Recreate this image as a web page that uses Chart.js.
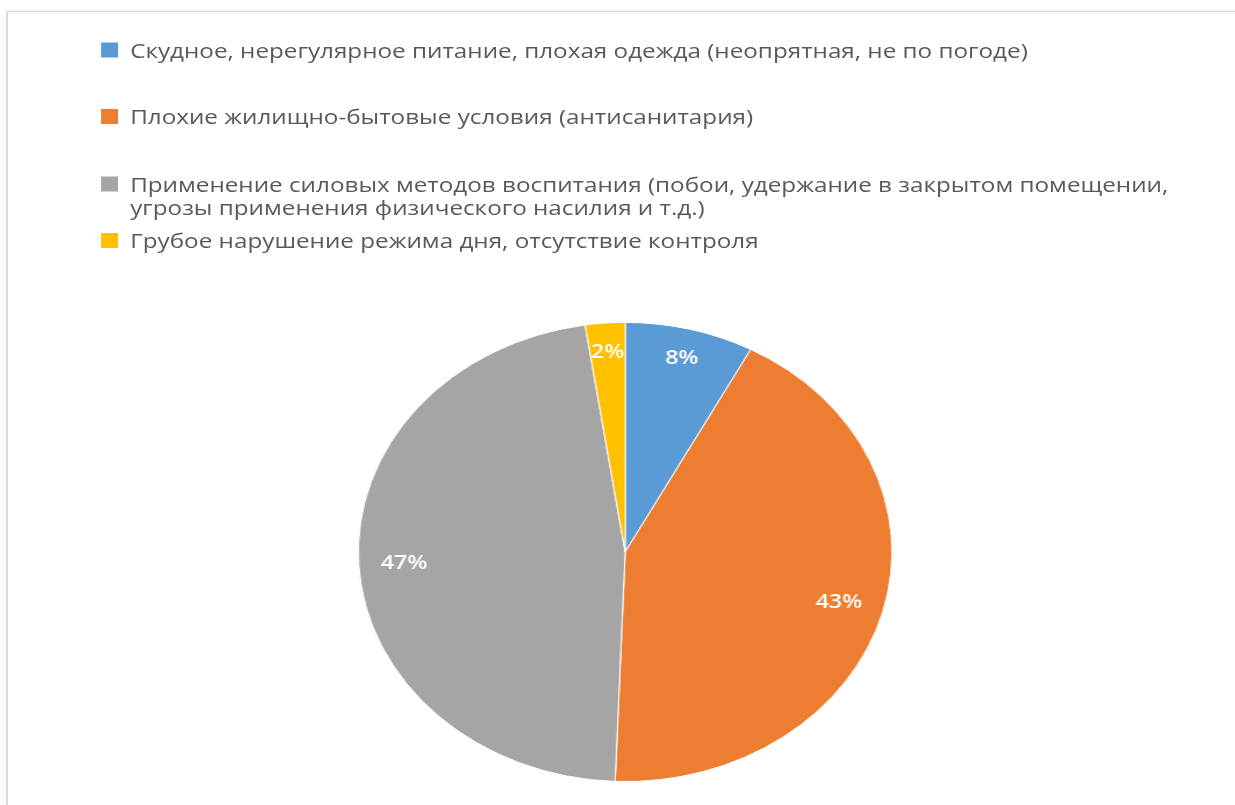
<!DOCTYPE html>
<html><head><meta charset="utf-8">
<script src="https://cdn.jsdelivr.net/npm/chart.js@4.4.1/dist/chart.umd.min.js"></script>
<style>
html,body{margin:0;padding:0;background:#fff;overflow:hidden;width:1235px;height:805px;}
#stage{position:absolute;left:0;top:0;width:1063px;height:805px;transform:scaleX(1.162);transform-origin:0 0;}
#pieWrap{position:absolute;left:297.9px;top:312.4px;width:480px;height:480px;}
#legend{position:absolute;left:0;top:0;}
#legend text{font-family:"Open Sans",sans-serif;fill:#595959;}
</style></head><body>
<div id="stage">
<svg id="legend" width="1063" height="805" xmlns="http://www.w3.org/2000/svg"></svg>
<div id="pieWrap"><canvas id="c" width="480" height="480"></canvas></div>
</div>
<script>
// ---- data ----
const categories = [
  'Скудное, нерегулярное питание, плохая одежда (неопрятная, не по погоде)',
  'Плохие жилищно-бытовые условия (антисанитария)',
  'Применение силовых методов воспитания (побои, удержание в закрытом помещении, угрозы применения физического насилия и т.д.)',
  'Грубое нарушение режима дня, отсутствие контроля'
];
const values = [7.8, 42.8, 47.0, 2.4];
const colors = ['#5B9BD5', '#ED7D31', '#A5A5A5', '#FFC000'];

// ---- layout (styles / positions) ----
const legendBaselines = [58, 124.5, 192, 248.5];
const legendLineGap = 23;
const legendTextX = 112;
const legendBoxX = 87;
const legendMaxWidth = 900;
const pieRadius = 229.6;

// ---- legend (SVG real text) ----
const svgNS = 'http://www.w3.org/2000/svg';
const svg = document.getElementById('legend');
const mctx = document.createElement('canvas').getContext('2d');
mctx.font = '20px "Open Sans"';
const refW = mctx.measureText(categories[0]).width;
let fs = 20 * 773 / refW;
fs = Math.max(17, Math.min(23, fs));
mctx.font = fs + 'px "Open Sans"';

function wrap(text) {
  const words = text.split(' ');
  const lines = [];
  let cur = '';
  for (const w of words) {
    const t = cur ? cur + ' ' + w : w;
    if (mctx.measureText(t).width > legendMaxWidth && cur) { lines.push(cur); cur = w; }
    else cur = t;
  }
  if (cur) lines.push(cur);
  return lines;
}

// frame lines
function line(x1, y1, x2, y2, w) {
  const l = document.createElementNS(svgNS, 'line');
  l.setAttribute('x1', x1); l.setAttribute('y1', y1);
  l.setAttribute('x2', x2); l.setAttribute('y2', y2);
  l.setAttribute('stroke', '#d9d9d9'); l.setAttribute('stroke-width', w);
  svg.appendChild(l);
}
line(6, 11.5, 1063, 11.5, 1.5);
line(6, 11, 6, 805, 1.6);

categories.forEach((cat, i) => {
  const base = legendBaselines[i];
  const r = document.createElementNS(svgNS, 'rect');
  r.setAttribute('x', legendBoxX); r.setAttribute('y', base - 15.5);
  r.setAttribute('width', 14.6); r.setAttribute('height', 15);
  r.setAttribute('fill', colors[i]);
  svg.appendChild(r);
  wrap(cat).forEach((ln, j) => {
    const t = document.createElementNS(svgNS, 'text');
    t.setAttribute('x', legendTextX);
    t.setAttribute('y', base + j * legendLineGap);
    t.setAttribute('font-size', fs);
    t.textContent = ln;
    svg.appendChild(t);
  });
});

// ---- pie ----
const pctLabels = {
  id: 'pctLabels',
  afterDatasetsDraw(chart) {
    const ctx = chart.ctx;
    const meta = chart.getDatasetMeta(0);
    const data = chart.data.datasets[0].data;
    const total = data.reduce((a, b) => a + b, 0);
    ctx.save();
    ctx.fillStyle = '#ffffff';
    ctx.font = '600 20px "Open Sans"';
    ctx.textAlign = 'center';
    ctx.textBaseline = 'middle';
    meta.data.forEach((arc, i) => {
      const p = arc.getProps(['x', 'y', 'startAngle', 'endAngle', 'outerRadius'], true);
      const mid = (p.startAngle + p.endAngle) / 2;
      const span = p.endAngle - p.startAngle;
      const f = span < 1 ? 0.875 : 0.83;
      const x = p.x + Math.cos(mid) * p.outerRadius * f;
      const y = p.y + Math.sin(mid) * p.outerRadius * f;
      ctx.fillText(Math.round(data[i] / total * 100) + '%', x, y + 1);
    });
    ctx.restore();
  }
};

new Chart(document.getElementById('c'), {
  type: 'pie',
  data: {
    labels: categories,
    datasets: [{
      data: values,
      backgroundColor: colors,
      borderColor: '#ffffff',
      borderWidth: 1,
      radius: pieRadius
    }]
  },
  options: {
    responsive: false,
    animation: false,
    devicePixelRatio: 1,
    layout: { padding: 0 },
    plugins: {
      legend: { display: false },
      tooltip: { enabled: false },
      title: { display: false }
    }
  },
  plugins: [pctLabels]
});
</script>
</body></html>
